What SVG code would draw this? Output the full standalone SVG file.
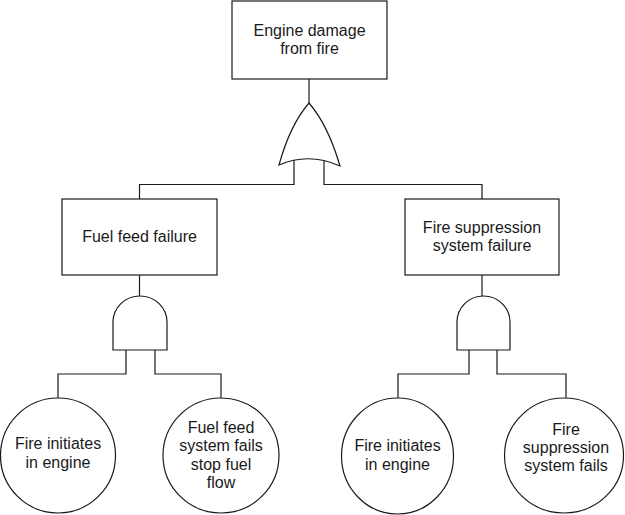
<svg xmlns="http://www.w3.org/2000/svg" width="625" height="515" viewBox="0 0 625 515">
<style>
.s{fill:#fff;stroke:#1a1a1a;stroke-width:1.2}
.c{fill:none;stroke:#1a1a1a;stroke-width:1.2}
text{font-family:"Liberation Sans",Arial,sans-serif;font-size:16px;fill:#1a1a1a;text-anchor:middle}
</style>
<rect width="625" height="515" fill="#fff"/>
<g id="connectors">
<path class="c" d="M309,79 V104"/>
<path class="c" d="M294,158 V184.5 H139.5 V199"/>
<path class="c" d="M324,158 V184.5 H482 V199"/>
<path class="c" d="M139.5,275 V296"/>
<path class="c" d="M126,350 V374 H58 V398"/>
<path class="c" d="M155,350 V374 H221 V398"/>
<path class="c" d="M482,275 V296"/>
<path class="c" d="M469,350 V374 H398 V398"/>
<path class="c" d="M497,350 V374 H566 V398"/>
</g>
<g id="top">
<rect class="s" x="232" y="1" width="155" height="78"/>
<text x="309.5" y="36">Engine damage</text>
<text x="309.5" y="54">from fire</text>
</g>
<g id="or-gate">
<path class="s" d="M279,165 Q290,125 309,103 Q328,125 340,166 Q309,152 279,165 Z"/>
</g>
<g id="fuel-feed-failure">
<rect class="s" x="62" y="199" width="155" height="76"/>
<text x="139.5" y="242">Fuel feed failure</text>
</g>
<g id="and-left">
<path class="s" d="M113,350 V322 A27,26 0 0 1 167,322 V350 Z"/>
</g>
<g id="fire-suppression-failure">
<rect class="s" x="405" y="199" width="154" height="76"/>
<text x="482" y="233">Fire suppression</text>
<text x="482" y="251">system failure</text>
</g>
<g id="and-right">
<path class="s" d="M457,350 V322 A26.5,26 0 0 1 510,322 V350 Z"/>
</g>
<g id="fire-initiates-1">
<ellipse class="s" cx="58" cy="455.5" rx="57.5" ry="57.5"/>
<text x="58" y="449">Fire initiates</text>
<text x="58" y="467.5">in engine</text>
</g>
<g id="fuel-feed-fails">
<ellipse class="s" cx="221" cy="455.5" rx="58" ry="57.5"/>
<text x="221" y="433">Fuel feed</text>
<text x="221" y="451.3">system fails</text>
<text x="221" y="469.6">stop fuel</text>
<text x="221" y="488">flow</text>
</g>
<g id="fire-initiates-2">
<ellipse class="s" cx="397.5" cy="456" rx="56" ry="58"/>
<text x="397.5" y="451">Fire initiates</text>
<text x="397.5" y="469.5">in engine</text>
</g>
<g id="fire-suppression-fails">
<ellipse class="s" cx="564" cy="455.5" rx="59.5" ry="57.5"/>
<text x="566" y="435">Fire</text>
<text x="566" y="453">suppression</text>
<text x="566" y="471">system fails</text>
</g>
</svg>
